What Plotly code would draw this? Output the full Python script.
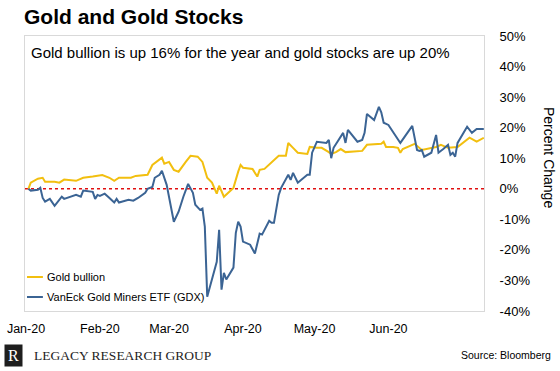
import plotly.graph_objects as go

# ---- data (percent change since start of 2020) ----
gold_dates = ["2020-01-02","2020-01-03","2020-01-06","2020-01-08","2020-01-09","2020-01-13","2020-01-15",
    "2020-01-17","2020-01-22","2020-01-25","2020-01-29","2020-02-02","2020-02-05","2020-02-07","2020-02-09",
    "2020-02-14","2020-02-16","2020-02-21","2020-02-23","2020-02-27","2020-02-28","2020-03-01","2020-03-03",
    "2020-03-05","2020-03-08","2020-03-10","2020-03-13","2020-03-15","2020-03-17","2020-03-19","2020-03-21",
    "2020-03-22","2020-03-24","2020-03-26","2020-03-28","2020-03-30","2020-03-31","2020-04-01","2020-04-05",
    "2020-04-07","2020-04-08","2020-04-10","2020-04-13","2020-04-16","2020-04-19","2020-04-20","2020-04-22",
    "2020-04-24","2020-04-28","2020-04-29","2020-05-02","2020-05-04","2020-05-07","2020-05-08","2020-05-10",
    "2020-05-12","2020-05-14","2020-05-21","2020-05-23","2020-05-29","2020-05-30","2020-05-31","2020-06-03",
    "2020-06-05","2020-06-06","2020-06-07","2020-06-12","2020-06-15","2020-06-21","2020-06-23","2020-06-26",
    "2020-06-30","2020-07-05","2020-07-08","2020-07-11"]
gold_values = [0.0, 2.0, 3.3, 3.6, 2.3, 2.3, 2.0,
    3.0, 2.6, 3.6, 4.0, 4.5, 3.6, 2.6, 3.6,
    3.6, 4.2, 4.6, 7.8, 10.2, 8.2, 8.8, 6.2,
    5.6, 8.8, 10.8, 10.5, 8.8, 3.6, 2.0, -1.6,
    1.0, -2.6, -1.3, 0.3, 5.6, 7.8, 6.9, 6.5,
    4.0, 6.2, 6.5, 8.8, 10.8, 10.8, 15.0, 13.4,
    11.8, 11.4, 13.7, 13.4, 13.4, 12.0, 11.4, 12.0,
    13.0, 12.0, 12.4, 14.4, 14.7, 15.4, 13.7, 13.7,
    13.4, 11.8, 13.0, 14.7, 12.7, 13.7, 14.4, 13.4,
    13.7, 16.7, 15.4, 16.7]

gdx_dates = ["2020-01-02","2020-01-03","2020-01-06","2020-01-07","2020-01-08","2020-01-09","2020-01-11",
    "2020-01-13","2020-01-16","2020-01-17","2020-01-22","2020-01-24","2020-01-25","2020-01-29","2020-01-30",
    "2020-01-31","2020-02-01","2020-02-03","2020-02-05","2020-02-07","2020-02-08","2020-02-09","2020-02-13",
    "2020-02-15","2020-02-17","2020-02-20","2020-02-21","2020-02-23","2020-02-24","2020-02-26","2020-02-27",
    "2020-02-29","2020-03-03","2020-03-05","2020-03-07","2020-03-09","2020-03-11","2020-03-12","2020-03-14",
    "2020-03-15","2020-03-16","2020-03-17","2020-03-21","2020-03-22","2020-03-23","2020-03-24","2020-03-25",
    "2020-03-28","2020-03-29","2020-03-30","2020-03-31","2020-04-01","2020-04-04","2020-04-06","2020-04-08",
    "2020-04-09","2020-04-12","2020-04-13","2020-04-14","2020-04-16","2020-04-17","2020-04-20","2020-04-21",
    "2020-04-22","2020-04-24","2020-04-28","2020-04-29","2020-04-30","2020-05-02","2020-05-06","2020-05-07",
    "2020-05-08","2020-05-09","2020-05-13","2020-05-14","2020-05-15","2020-05-19","2020-05-21","2020-05-22",
    "2020-05-23","2020-05-26","2020-05-28","2020-05-29","2020-05-30","2020-06-01","2020-06-06","2020-06-11",
    "2020-06-13","2020-06-14","2020-06-15","2020-06-16","2020-06-19","2020-06-21","2020-06-22","2020-06-24",
    "2020-06-26","2020-06-27","2020-06-28","2020-06-29","2020-06-30","2020-07-04","2020-07-06","2020-07-08",
    "2020-07-11"]
gdx_values = [0.0, -0.6, -0.3, 0.3, -3.0, -4.2, -3.3,
    -5.6, -2.6, -3.3, -2.0, -2.6, -0.6, -1.0, -3.3,
    -2.0, -2.3, -1.6, -3.0, -4.5, -3.3, -4.5, -3.6,
    -3.9, -3.0, -1.3, 0.0, 0.6, 3.6, 4.6, 5.9,
    1.3, -10.8, -7.5, -2.6, 1.6, -1.3, -5.2, -6.9,
    -6.5, -12.4, -35.3, -23.9, -13.4, -33.0, -27.5, -29.7,
    -25.8, -14.4, -10.8, -12.4, -17.3, -18.3, -21.2, -14.7,
    -15.0, -10.5, -11.1, -11.1, -2.0, 0.3, 4.6, 2.9,
    5.2, 2.0, 4.6, 4.6, 11.8, 15.4, 15.0, 16.0,
    10.0, 13.4, 18.3, 15.0, 19.3, 15.4, 16.0, 18.3,
    24.5, 22.5, 26.8, 25.0, 21.6, 20.9, 15.0, 20.6,
    12.7, 12.4, 12.7, 10.5, 11.8, 17.6, 11.8, 13.0,
    14.4, 11.1, 11.8, 10.5, 15.0, 20.3, 18.3, 19.6,
    19.6]

series_names = ["Gold bullion", "VanEck Gold Miners ETF (GDX)"]
month_ticks = ["2020-01-01","2020-02-01","2020-03-01","2020-04-01","2020-05-01","2020-06-01"]
month_labels = ["Jan-20","Feb-20","Mar-20","Apr-20","May-20","Jun-20"]
y_ticks = [-40, -30, -20, -10, 0, 10, 20, 30, 40, 50]
y_labels = [f"{v}%" for v in y_ticks]

GOLD = "#F2BF0F"
BLUE = "#3B6494"
FONT = "Liberation Sans, Arial, sans-serif"
SERIF = "Liberation Serif, Times New Roman, serif"

fig = go.Figure()
fig.add_trace(go.Scatter(x=gold_dates, y=gold_values, mode="lines", name=series_names[0],
                         line=dict(color=GOLD, width=2), showlegend=False))
fig.add_trace(go.Scatter(x=gdx_dates, y=gdx_values, mode="lines", name=series_names[1],
                         line=dict(color=BLUE, width=2), showlegend=False))

fig.add_hline(y=0, line=dict(color="#E01010", width=1.5, dash="dot"), layer="below")

fig.update_layout(
    width=560, height=371,
    margin=dict(l=25, r=76, t=36, b=60, autoexpand=False),
    paper_bgcolor="white", plot_bgcolor="white",
    font=dict(family=FONT, size=13, color="#000000"),
    showlegend=False,
    xaxis=dict(type="date", range=["2019-12-31 14:00", "2020-07-11 02:00"],
               tickmode="array", tickvals=month_ticks, ticktext=month_labels,
               showgrid=False, zeroline=False, showline=True, mirror=True, automargin=False,
               linecolor="#D9D9D9", linewidth=1, ticks="", ticklabelstandoff=6,
               ticklabeloverflow="allow", tickfont=dict(size=12.5)),
    yaxis=dict(range=[-40, 50], side="right", tickmode="array", tickvals=y_ticks, ticktext=y_labels,
               showgrid=False, zeroline=False, showline=True, mirror=True, automargin=False,
               linecolor="#D9D9D9", linewidth=1, ticks="", ticklabelstandoff=12,
               ticklabeloverflow="allow", tickfont=dict(size=13)),
)

# legend (drawn as line samples + labels in the lower-left corner of the plot)
legend_colors = [GOLD, BLUE]
legend_y = [0.1236, 0.0509]
for name, col, ly in zip(series_names, legend_colors, legend_y):
    fig.add_shape(type="line", xref="paper", yref="paper", x0=0.0044, x1=0.039, y0=ly, y1=ly,
                  line=dict(color=col, width=2))
    fig.add_annotation(text=name, xref="paper", yref="paper", x=0.044, y=ly,
                       xanchor="left", yanchor="middle", showarrow=False,
                       font=dict(family=FONT, size=11, color="#000000"))

fig.add_annotation(text="<b>Gold and Gold Stocks</b>", xref="paper", yref="paper",
                   x=-0.0065, y=1.0727, xanchor="left", yanchor="middle", showarrow=False,
                   font=dict(family=FONT, size=21, color="#000000"))
fig.add_annotation(text="Gold bullion is up 16% for the year and gold stocks are up 20%",
                   xref="paper", yref="paper", x=0.0087, y=0.9418, xanchor="left", yanchor="middle",
                   showarrow=False, font=dict(family=FONT, size=15, color="#000000"))
fig.add_annotation(text="Percent Change", xref="paper", yref="paper", x=1.1416, y=0.5564,
                   xanchor="center", yanchor="middle", textangle=90, showarrow=False,
                   font=dict(family=FONT, size=14, color="#000000"))
fig.add_annotation(text="R", xref="paper", yref="paper", x=-0.0255, y=-0.16,
                   xanchor="center", yanchor="middle", showarrow=False, bgcolor="#1E1E1E",
                   borderpad=2, width=13, font=dict(family=SERIF, size=16, color="#FFFFFF"))
fig.add_annotation(text="LEGACY RESEARCH GROUP", xref="paper", yref="paper", x=0.0153, y=-0.16,
                   xanchor="left", yanchor="middle", showarrow=False,
                   font=dict(family=SERIF, size=13.5, color="#1E1E1E"))
fig.add_annotation(text="Source: Bloomberg", xref="paper", yref="paper", x=1.150, y=-0.16,
                   xanchor="right", yanchor="middle", showarrow=False,
                   font=dict(family=FONT, size=10.5, color="#000000"))

# remove the page's default 8px body margin so the figure fills the window exactly
fig.write_html("out.html", config={"displayModeBar": False},
               post_script="document.body.style.margin='0';")
